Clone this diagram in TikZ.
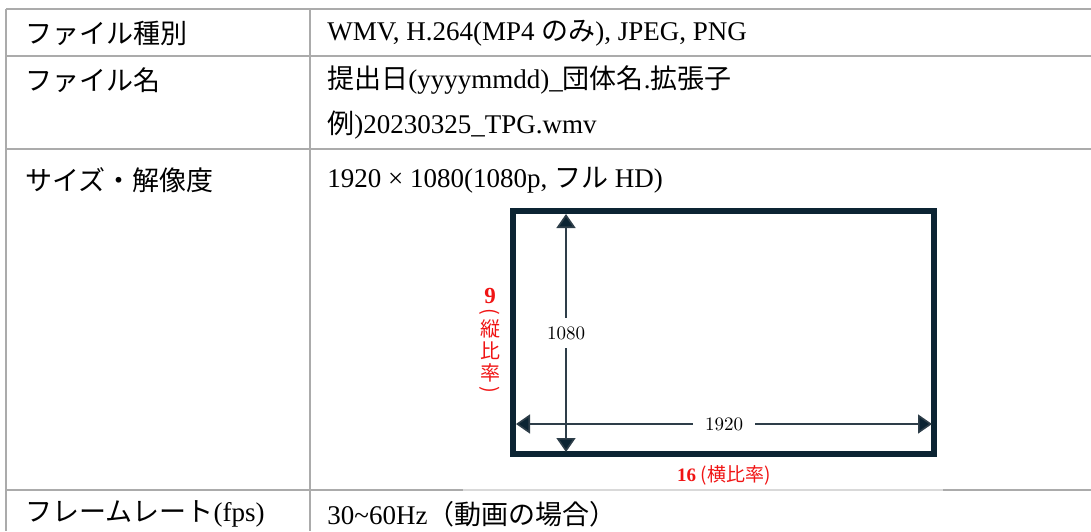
\documentclass[tikz,border=0pt]{standalone}
\usepackage{fontspec}
\usepackage{graphicx}
\newfontfamily\tnr{Liberation Serif}
\newfontfamily\jp{Noto Sans CJK JP}
\usetikzlibrary{arrows.meta}
\definecolor{rulegray}{HTML}{ABABAB}
\definecolor{framenavy}{HTML}{0C2433}
\definecolor{arrowgray}{HTML}{2E3E49}
\definecolor{ratiored}{HTML}{F01414}

\begin{document}
\begin{tikzpicture}[x=0.5pt,y=-0.5pt,
    cell/.style={anchor=west,inner sep=0pt,font=\tnr\fontsize{13.5}{16}\selectfont},
    dimlabel/.style={fill=white,inner xsep=6pt,inner ysep=4pt,font=\fontsize{9.5}{10}\selectfont,text=black},
    ratio/.style={text=ratiored,inner sep=0pt,font=\tnr\fontsize{9.5}{10}\selectfont},
    dimarrow/.style={arrowgray,line width=0.8pt,{Triangle[width=9.5pt,length=7pt,fill=framenavy]}-{Triangle[width=9.5pt,length=7pt,fill=framenavy]}}]
  \useasboundingbox (0,0) rectangle (1091,531);
  \draw[rulegray,line width=1pt] (6,9) -- (1091,9) (6,56) -- (1091,56) (6,149) -- (1091,149)
    (6,490) -- (1091,490) (6,9) -- (6,531) (310,9) -- (310,531);
  \draw[rulegray!45,line width=1pt] (463,490) -- (943,490);
  \node[cell] (type) at (25,33) {{\jp ファイル種別}};
  \node[cell] (typeval) at (327,33) {WMV, H.264(MP4 {\jp のみ}), JPEG, PNG};
  \node[cell] (name) at (25,80) {{\jp ファイル名}};
  \node[cell] (nameval) at (327,80) {{\jp 提出日}(yyyymmdd)\_{\jp 団体名}.{\jp 拡張子}};
  \node[cell] (nameex) at (327,125) {{\jp 例})20230325\_TPG.wmv};
  \node[cell] (size) at (25,180) {{\jp サイズ・解像度}};
  \node[cell] (sizeval) at (327,180) {1920 × 1080(1080p, {\jp フル} HD)};
  \node[cell] (rate) at (25,514) {{\jp フレームレート}(fps)};
  \node[cell] (rateval) at (327,514) {30\textasciitilde60Hz{\jp （動画の場合）}};
  \draw[framenavy,line width=3pt] (513,211) rectangle (934,454);
  \coordinate (vtop) at (566,214);
  \coordinate (vbot) at (566,452);
  \coordinate (hleft) at (516,424);
  \coordinate (hright) at (932,424);
  \draw[dimarrow] (vtop) -- node[dimlabel] (height) {1080} (vbot);
  \draw[dimarrow] (hleft) -- node[dimlabel] (width) {1920} (hright);
  \node[ratio] (vratio) at (490,296) {\bfseries\fontsize{11.5}{12}\selectfont 9};
  \node[ratio] (vratiotext) at (490,351) {\jp\fontsize{10}{10}\selectfont\shortstack{\rotatebox{-90}{(}\\[-1pt]縦\\[-1pt]比\\[-1pt]率\\[-1pt]\rotatebox{-90}{)}}};
  \node[ratio] (hratio) at (724,475) {\bfseries 16 {\jp\mdseries (横比率)}};
\end{tikzpicture}
\end{document}
